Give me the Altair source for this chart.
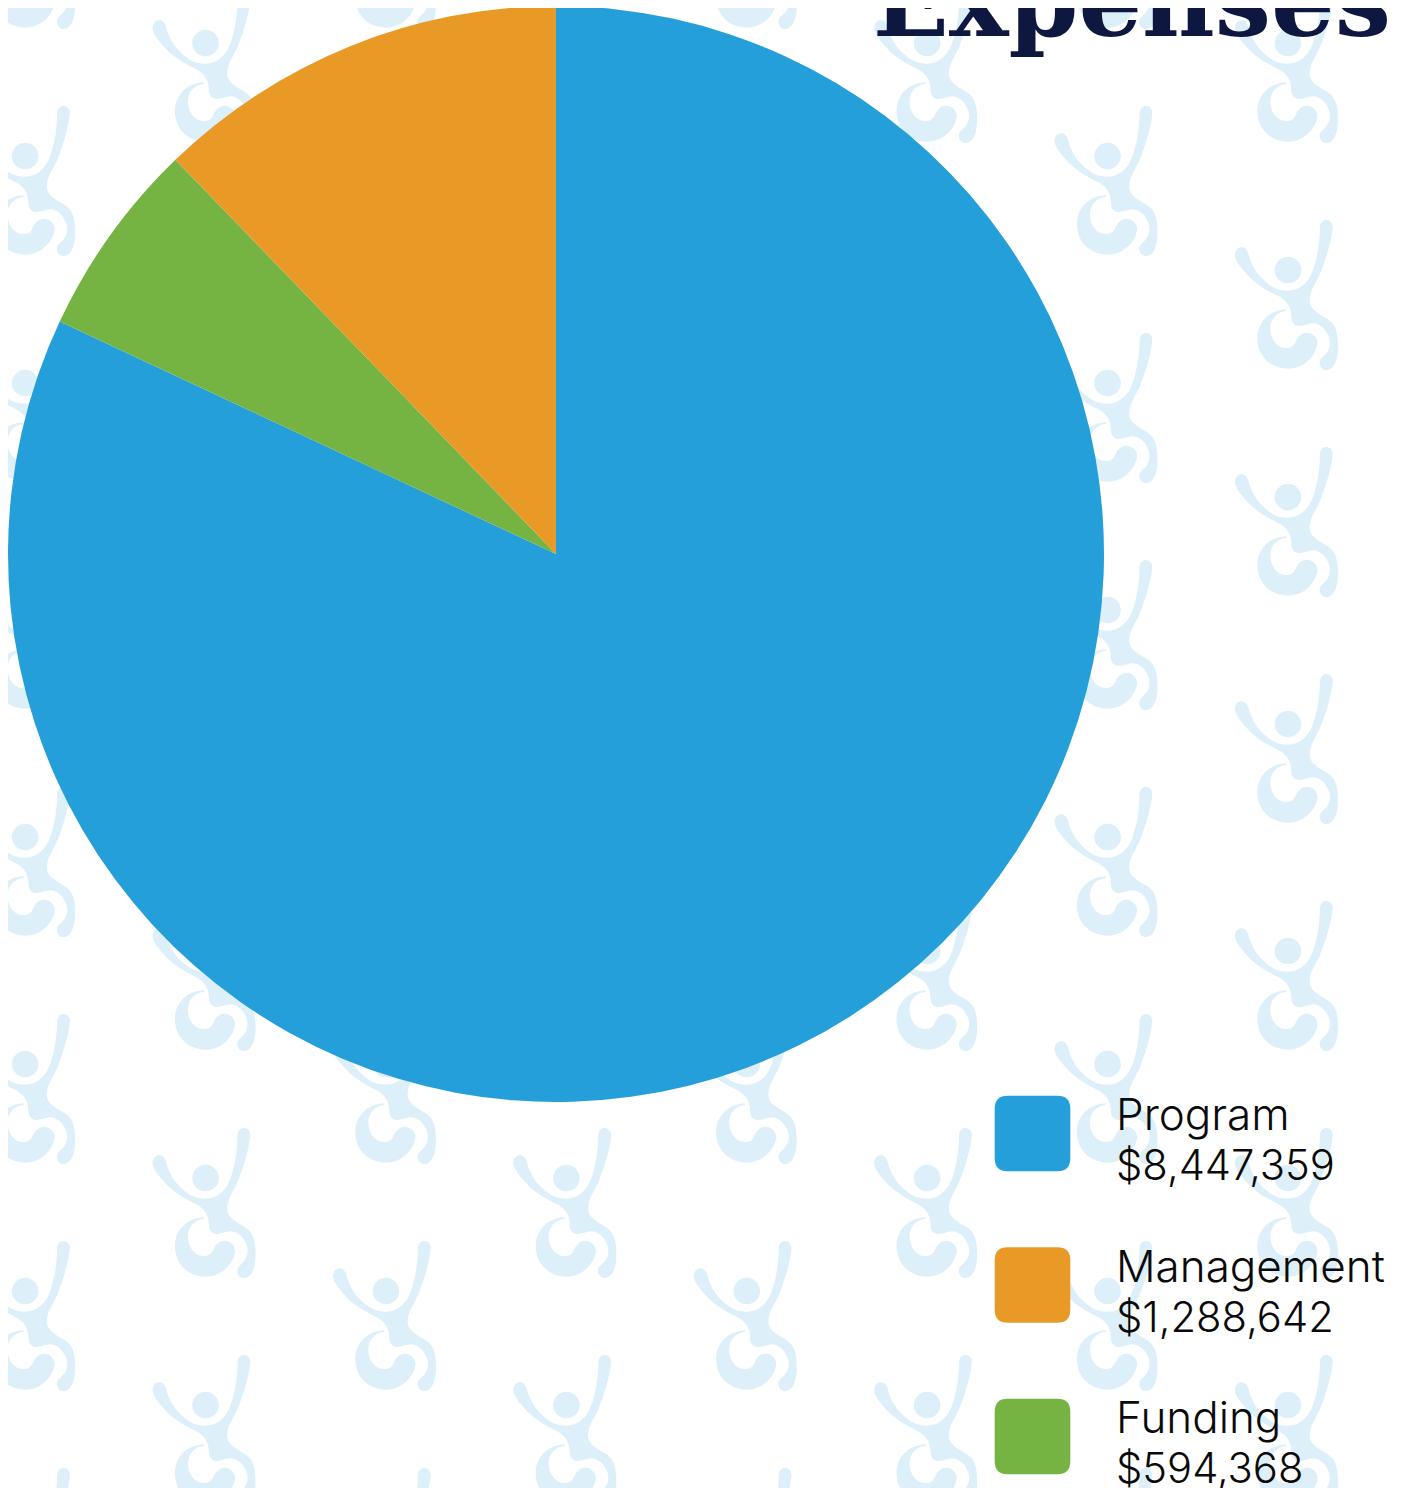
import re
import altair as alt
import pandas as pd

# Values
names = ["Program", "Funding", "Management"]
slice_shares = [81.97, 5.81, 12.22]  # shares as drawn in the pie (percent of the circle)
colors = ["#259FDA", "#75B343", "#E99A26"]
legend_names = ["Program", "Management", "Funding"]
legend_amounts = [8447359, 1288642, 594368]
legend_colors = ["#259FDA", "#E99A26", "#75B343"]
title_text = ["Expenses"]

PAGE = 8
W, H = 1400, 1480

# Watermark logo (traced), centred on (200, 245), 3 units per pixel
LOGO = (
    "M46 125 C46 110 56 102 66 102 C76 102 83 110 86 120 C92 145 105 175 130 198 "
    "C150 218 172 232 200 232 C235 232 262 215 278 175 C295 130 300 85 301 40 "
    "C302 28 310 20 320 20 C332 20 341 30 339 45 C335 85 320 135 300 185 "
    "C285 215 270 235 270 262 C270 285 290 298 320 315 C345 330 355 350 355 400 "
    "C355 445 340 470 320 470 C308 470 300 460 300 448 C300 436 310 432 320 420 "
    "C332 405 335 385 325 365 C315 342 295 330 280 330 C265 330 250 340 235 338 "
    "C222 336 215 325 215 312 C215 285 205 265 180 250 C140 230 105 212 75 175 "
    "C60 158 46 140 46 125 Z "
    "M165 170 C165 148 183 130 205 130 C227 130 245 148 245 170 C245 192 227 210 205 210 "
    "C183 210 165 192 165 170 Z "
    "M200 288 C150 290 113 325 113 375 C113 430 155 466 205 466 C250 466 285 432 293 395 "
    "C297 375 280 358 262 358 C245 358 235 370 228 385 C222 400 212 404 198 404 "
    "C170 404 152 375 152 345 C152 320 170 295 200 293 Z"
)


def unit_path(path):
    out = []
    tokens = re.findall(r"[MCZ]|-?\d+\.?\d*", path)
    is_x = True
    for t in tokens:
        if t in "MCZ":
            out.append(t)
            is_x = True
        else:
            v = float(t)
            out.append(f"{(v - 200) / 225:.4f}" if is_x else f"{(v - 245) / 225:.4f}")
            is_x = not is_x
    return " ".join(out)


logo_shape = unit_path(LOGO)
swatch_shape = (
    "M-0.656 -1 L0.656 -1 Q1 -1 1 -0.656 L1 0.656 Q1 1 0.656 1 L-0.656 1 "
    "Q-1 1 -1 0.656 L-1 -0.656 Q-1 -1 -0.656 -1 Z"
)

# Wallpaper lattice: eight columns, alternate columns shifted half a row
lattice = [
    {"px": 1286.3 - 180.4 * c, "py": (68 if c % 2 == 0 else 181) + 227 * k}
    for c in range(8)
    for k in range(-1, 7)
]

pie_df = pd.DataFrame({"name": names, "share": slice_shares, "rank": [0, 1, 2]})
legend_df = pd.DataFrame(
    {
        "name": legend_names,
        "row": [0, 1, 2],
        "amount_text": [f"${v:,}" for v in legend_amounts],
    }
)

px_x = alt.Scale(domain=[PAGE, PAGE + W], range=[0, W])
px_y = alt.Scale(domain=[PAGE, PAGE + H], range=[0, H])
row_y = alt.Scale(domain=[0, 2], range=[1133.5 - PAGE, 1436.5 - PAGE])
legend_color = alt.Color(
    "name:N", scale=alt.Scale(domain=legend_names, range=legend_colors), legend=None
)

pattern = (
    alt.Chart(pd.DataFrame(lattice))
    .mark_point(shape=logo_shape, filled=True, size=22500, opacity=1, strokeWidth=0, color="#DDF0FA")
    .encode(
        x=alt.X("px:Q", scale=px_x, axis=None),
        y=alt.Y("py:Q", scale=px_y, axis=None),
    )
)

pie = (
    alt.Chart(pie_df)
    .mark_arc(radius=548)
    .encode(
        theta=alt.Theta("share:Q", stack=True),
        order=alt.Order("rank:Q"),
        color=alt.Color("name:N", scale=alt.Scale(domain=names, range=colors), legend=None),
        x=alt.value(556 - PAGE),
        y=alt.value(554 - PAGE),
    )
)

title = (
    alt.Chart(pd.DataFrame({"t": title_text}))
    .mark_text(
        font="DejaVu Serif",
        fontWeight="bold",
        fontSize=100,
        align="right",
        baseline="alphabetic",
        color="#0D1740",
    )
    .encode(text="t:N", x=alt.value(1391 - PAGE), y=alt.value(35.5 - PAGE))
)

swatches = (
    alt.Chart(legend_df)
    .mark_point(shape=swatch_shape, filled=True, size=5715, opacity=1, strokeWidth=0)
    .encode(
        x=alt.value(1032.5 - PAGE),
        y=alt.Y("row:Q", scale=row_y, axis=None),
        color=legend_color,
    )
)

text_style = dict(
    font="Inter",
    fontWeight=300,
    align="left",
    baseline="alphabetic",
    color="#0A0A0A",
)
label_line = (
    alt.Chart(legend_df)
    .mark_text(dy=-3.5, fontSize=44, **text_style)
    .encode(x=alt.value(1116 - PAGE), y=alt.Y("row:Q", scale=row_y, axis=None), text="name:N")
)
amount_line = (
    alt.Chart(legend_df)
    .mark_text(dy=46.5, fontSize=41.7, **text_style)
    .encode(x=alt.value(1116 - PAGE), y=alt.Y("row:Q", scale=row_y, axis=None), text="amount_text:N")
)

chart = (
    alt.layer(pattern, pie, title, swatches, label_line, amount_line)
    .resolve_scale(x="independent", y="independent", color="independent")
    .properties(
        width=W,
        height=H,
        padding=0,
        autosize=alt.AutoSizeParams(type="none"),
        background="#FFFFFF",
    )
    .configure_view(stroke=None)
)

chart.save("out.html", embed_options={"renderer": "svg", "actions": False})
